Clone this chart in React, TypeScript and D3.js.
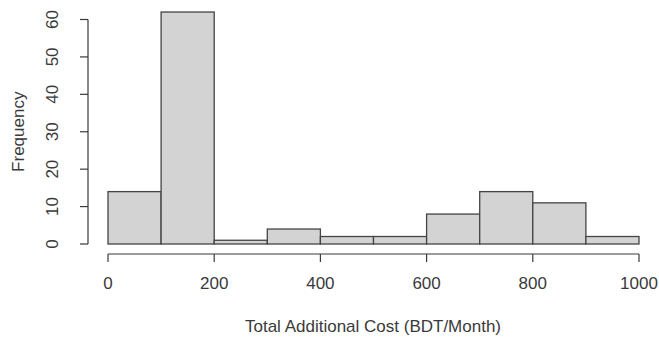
import React from "react";
import * as d3 from "d3";

const binEdges = [0, 100, 200, 300, 400, 500, 600, 700, 800, 900, 1000];
const counts = [14, 62, 1, 4, 2, 2, 8, 14, 11, 2];
const xTicks = [0, 200, 400, 600, 800, 1000];
const yTicks = [0, 10, 20, 30, 40, 50, 60];
const xTitle = "Total Additional Cost (BDT/Month)";
const yTitle = "Frequency";

export default function App() {
  const W = 659, H = 340;
  const x = d3.scaleLinear().domain([0, 1000]).range([108, 639]);
  const y = d3.scaleLinear().domain([0, 60]).range([244, 19.5]);
  const axisX = 88;
  const axisY = 254;
  const font = "'Liberation Sans', Arial, sans-serif";
  const fs = 17;
  const txt = "#3a3a3a";
  const ax = "#3a3a3a";
  return (
    <svg width={W} height={H} style={{ position: "absolute", left: 0, top: 0, background: "#fff" }}>
      <rect width={W} height={H} fill="#fff" />
      {counts.map((c, i) => (
        <rect
          key={i}
          x={x(binEdges[i])}
          y={y(c)}
          width={x(binEdges[i + 1]) - x(binEdges[i])}
          height={y(0) - y(c)}
          fill="#d3d3d3"
          stroke="#444"
          strokeWidth={1.3}
        />
      ))}
      {/* y axis */}
      <line x1={axisX} x2={axisX} y1={y(0)} y2={y(60)} stroke={ax} strokeWidth={1.2} />
      {yTicks.map((t) => (
        <g key={t}>
          <line x1={axisX - 8} x2={axisX} y1={y(t)} y2={y(t)} stroke={ax} strokeWidth={1.2} />
          <text
            transform={`translate(58,${y(t)}) rotate(-90)`}
            textAnchor="middle"
            fontFamily={font}
            fontSize={fs}
            fill={txt}
          >
            {t}
          </text>
        </g>
      ))}
      {/* x axis */}
      <line x1={x(0)} x2={x(1000)} y1={axisY} y2={axisY} stroke={ax} strokeWidth={1.2} />
      {xTicks.map((t) => (
        <g key={t}>
          <line x1={x(t)} x2={x(t)} y1={axisY} y2={axisY + 8} stroke={ax} strokeWidth={1.2} />
          <text x={x(t)} y={289} textAnchor="middle" fontFamily={font} fontSize={fs} fill={txt}>
            {t}
          </text>
        </g>
      ))}
      <text x={373} y={332} textAnchor="middle" fontFamily={font} fontSize={fs} fill={txt}>
        {xTitle}
      </text>
      <text
        transform={`translate(24,${(y(0) + y(60)) / 2}) rotate(-90)`}
        textAnchor="middle"
        fontFamily={font}
        fontSize={fs}
        fill={txt}
      >
        {yTitle}
      </text>
    </svg>
  );
}
